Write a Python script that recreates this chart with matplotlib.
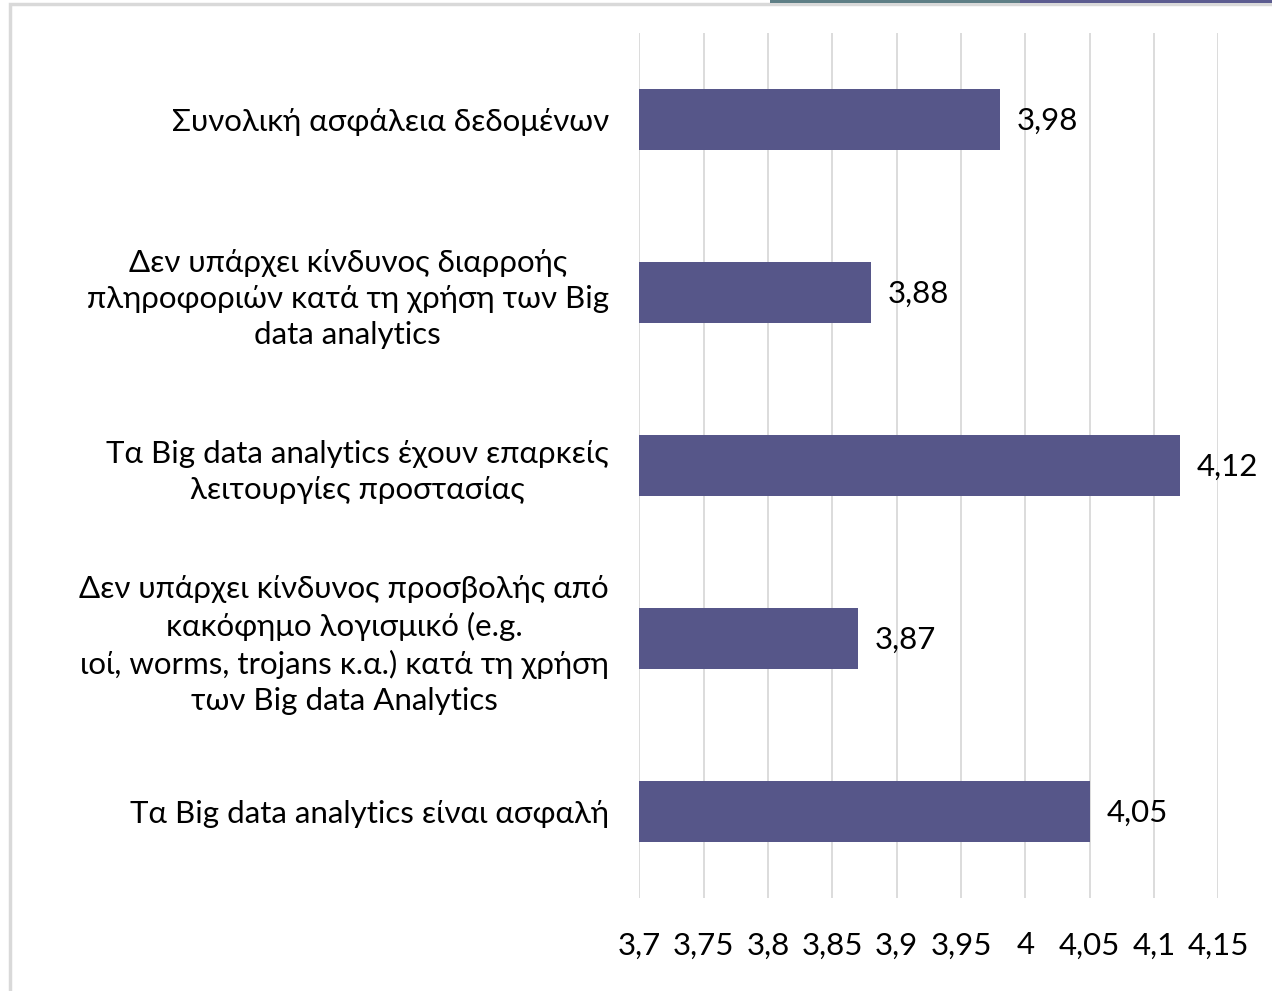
import matplotlib
matplotlib.use("Agg")
import matplotlib.pyplot as plt
from matplotlib.patches import Rectangle
from matplotlib.ticker import FuncFormatter

# data (top to bottom as shown)
categories = [
    "Συνολική ασφάλεια δεδομένων",
    "Δεν υπάρχει κίνδυνος διαρροής\nπληροφοριών κατά τη χρήση των Big\ndata analytics",
    "Τα Big data analytics έχουν επαρκείς\nλειτουργίες προστασίας",
    "Δεν υπάρχει κίνδυνος προσβολής από\nκακόφημο λογισμικό (e.g.\nιοί, worms, trojans κ.α.) κατά τη χρήση\nτων Big data Analytics",
    "Τα Big data analytics είναι ασφαλή",
]
values = [3.98, 3.88, 4.12, 3.87, 4.05]
x_ticks = [3.7, 3.75, 3.8, 3.85, 3.9, 3.95, 4.0, 4.05, 4.1, 4.15]

bar_color = "#565689"
grid_color = "#d9d9d9"

plt.rcParams['font.family'] = ['Lato', 'DejaVu Sans']
fsize = 22.5

fig = plt.figure(figsize=(12.72, 9.91), dpi=100)
ax = fig.add_axes([0.5027, 0.0938, 0.4552, 0.8729])

pos = list(range(len(values)))[::-1]
ax.barh(pos, [v - 3.7 for v in values], left=3.7, height=0.35, color=bar_color, zorder=2)

ax.set_xlim(3.7, 4.15)
ax.set_ylim(-0.5, len(values) - 0.5)
ax.set_xticks(x_ticks)
ax.xaxis.set_major_formatter(FuncFormatter(lambda v, p: ("%g" % round(v, 2)).replace(".", ",")))
ax.grid(axis="x", color=grid_color, linewidth=1.3, zorder=0)
ax.set_yticks(pos)
ax.set_yticklabels(categories, multialignment="center", fontsize=fsize, linespacing=1.35)
ax.tick_params(axis="y", length=0, pad=22)
ax.tick_params(axis="x", length=0, pad=24, labelsize=fsize)
for s in ax.spines.values():
    s.set_visible(False)

for p, v in zip(pos, values):
    ax.text(v + 0.013, p - 0.01, ("%.2f" % v).replace(".", ","), va="center", ha="left", fontsize=fsize)

# outer border of the chart frame
fig.patches.append(Rectangle((10 / 1272, -0.1), 1.2, 1.1 - 4 / 991, transform=fig.transFigure,
                             fill=False, edgecolor="#d9d9d9", linewidth=2.5))
fig.patches.append(Rectangle((770 / 1272, 1 - 3 / 991), 250 / 1272, 3 / 991, transform=fig.transFigure,
                             color="#5f7f86", linewidth=0))
fig.patches.append(Rectangle((1020 / 1272, 1 - 3 / 991), 252 / 1272, 3 / 991, transform=fig.transFigure,
                             color="#5c5c90", linewidth=0))

fig.savefig("out.png", dpi=100)
